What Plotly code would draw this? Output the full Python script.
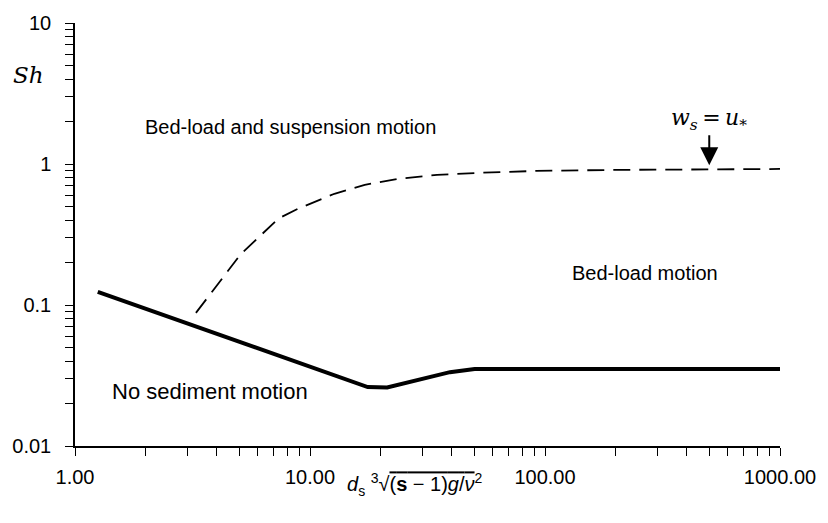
import math
import plotly.graph_objects as go

# --- data ---
solid_x = [1.25, 17.6, 21.3, 39.4, 50.2, 1000.0]
solid_y = [0.124, 0.0262, 0.0260, 0.0334, 0.0352, 0.0352]

dashed_x = [3.27, 5.07, 5.92, 7.33, 8.90, 12.7, 17.1, 23.5, 34.7, 51.2, 91.6, 199.0, 1000.0]
dashed_y = [0.0879, 0.229, 0.292, 0.41, 0.482, 0.615, 0.711, 0.784, 0.837, 0.864, 0.893, 0.908, 0.922]

x_decades = [1, 10, 100, 1000]
x_decade_labels = ["1.00", "10.00", "100.00", "1000.00"]
y_decades = [0.01, 0.1, 1, 10]
y_decade_labels = ["0.01", "0.1", "1", "10"]
minor_mult = [2, 3, 4, 5, 6, 7, 8, 9]

region_labels = ["Bed-load and suspension motion", "Bed-load motion", "No sediment motion"]
region_x = [8.24, 267.0, 3.75]
region_y = [1.82, 0.168, 0.0242]
region_font_sizes = [20, 20, 22]

arrow_x = 500.0
arrow_y = 0.98


def log_ticks(decades, labels):
    vals, texts = [], []
    for i, d in enumerate(decades):
        vals.append(d)
        texts.append(labels[i])
        if i < len(decades) - 1:
            for m in minor_mult:
                vals.append(d * m)
                texts.append("")
    return vals, texts


xt_vals, xt_text = log_ticks(x_decades, x_decade_labels)
yt_vals, yt_text = log_ticks(y_decades, y_decade_labels)

FONT = "Liberation Sans, Arial, Helvetica, sans-serif"
SERIF = "DejaVu Serif"

fig = go.Figure()
fig.add_trace(go.Scatter(x=dashed_x, y=dashed_y, mode="lines",
                         line=dict(color="black", width=1.8, dash="17px,9px"),
                         hoverinfo="skip", showlegend=False))
fig.add_trace(go.Scatter(x=solid_x, y=solid_y, mode="lines",
                         line=dict(color="black", width=4),
                         hoverinfo="skip", showlegend=False))

# annotations on log axes take log10 coordinates
for t, xx, yy, fs in zip(region_labels, region_x, region_y, region_font_sizes):
    fig.add_annotation(x=math.log10(xx), y=math.log10(yy), xref="x", yref="y",
                       text=t, showarrow=False, xanchor="center", yanchor="middle",
                       font=dict(family=FONT, size=fs, color="black"))

fig.add_annotation(x=math.log10(arrow_x), y=math.log10(arrow_y), xref="x", yref="y",
                   text="<i>w<sub>s</sub></i>\u2009=\u2009<i>u</i><sub>*</sub>",
                   showarrow=True, ax=0, ay=-46, arrowhead=2, arrowsize=1.8,
                   arrowwidth=2, arrowcolor="black", standoff=0,
                   font=dict(family=SERIF, size=22, color="black"))

fig.add_annotation(x=-0.066, y=0.878, xref="paper", yref="paper",
                   xanchor="center", yanchor="middle",
                   text="<i>Sh</i>", showarrow=False,
                   font=dict(family=SERIF, size=23, color="black"))

fig.add_annotation(x=0.482, y=-0.09, xref="paper", yref="paper",
                   xanchor="center", yanchor="middle",
                   text="<i>d</i><sub>s</sub> <sup>3</sup>√<span style='text-decoration:overline'>(<b>s</b> − 1)<i>g</i>/<i>ν</i></span><sup>2</sup>",
                   showarrow=False,
                   font=dict(family=FONT, size=20, color="black"))

axis_common = dict(type="log", showgrid=False, zeroline=False, showline=True,
                   linecolor="black", linewidth=1.5, ticks="outside", ticklen=8,
                   tickwidth=1.2, tickcolor="black", mirror=False,
                   tickfont=dict(family=FONT, size=20, color="black"))

fig.update_xaxes(range=[0, 3], tickvals=xt_vals, ticktext=xt_text,
                 ticklabelstandoff=4, **axis_common)
fig.update_yaxes(range=[-2, 1], tickvals=yt_vals, ticktext=yt_text,
                 ticklabelstandoff=10, **axis_common)

fig.update_layout(width=828, height=523, plot_bgcolor="white", paper_bgcolor="white",
                  margin=dict(l=75, r=42, t=20, b=77), showlegend=False)

fig.write_html("out.html")
